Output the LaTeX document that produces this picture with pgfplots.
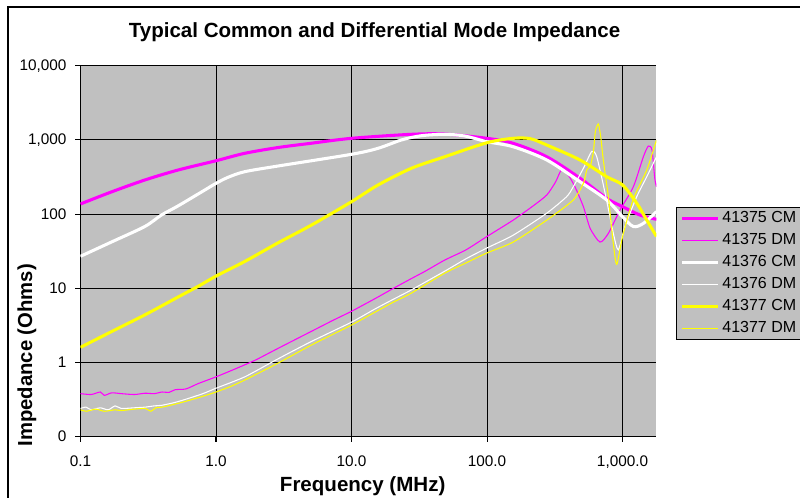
\documentclass[border=0pt]{standalone}
\usepackage{fontspec}
\setmainfont{Liberation Sans}
\usepackage{pgfplots}
\pgfplotsset{compat=1.18}
\definecolor{plotgray}{RGB}{192,192,192}
\definecolor{mag}{RGB}{255,0,255}
\definecolor{yel}{RGB}{255,255,0}

\begin{document}
\begin{tikzpicture}
\useasboundingbox (0,0) rectangle (600pt,-373.5pt);
\clip (0,0) rectangle (600pt,-373.5pt);
\fill[white] (0,0) rectangle (600pt,-373.5pt);
\draw[black, line width=1.1pt] (6pt,-5.25pt) rectangle (640pt,-400pt);

\node[font=\bfseries\fontsize{15.4}{18}\selectfont] at (280.9pt,-24pt) {Typical Common and Differential Mode Impedance};
\node[font=\bfseries\fontsize{15.2}{18}\selectfont, rotate=90] at (20.25pt,-266.5pt) {Impedance (Ohms)};
\node[font=\bfseries\fontsize{15.4}{18}\selectfont] at (272pt,-364.5pt) {Frequency (MHz)};

\begin{axis}[
    at={(60.375pt,-327.5pt)}, anchor=south west,
    scale only axis, width=432pt, height=278.2pt,
    xmode=log, ymode=log,
    xmin=0.1, xmax=1780, ymin=0.1, ymax=10000,
    xtick={0.1,1,10,100,1000},
    xticklabels={0.1,1.0,10.0,100.0,{1,000.0}},
    ytick={0.1,1,10,100,1000,10000},
    yticklabels={0,1,10,100,{1,000},{10,000}},
    xminorticks=false, yminorticks=false,
    axis lines*=left,
    axis line style={black, line width=0.8pt},
    tick align=outside, major tick length=4pt,
    tick style={black, line width=0.8pt},
    grid=major,
    grid style={black, line width=0.7pt},
    axis background/.style={fill=plotgray},
    tick label style={font=\fontsize{11.5}{13}\selectfont},
    xticklabel style={yshift=-6.5pt},
    yticklabel style={xshift=-3pt},
    legend style={at={(1.034,0.619)}, anchor=north west,
        fill=plotgray, draw=black, line width=0.8pt,
        inner xsep=3pt, inner ysep=0pt,
        font=\fontsize{12}{14}\selectfont,
        nodes={inner sep=2pt, text height=9pt, text depth=3.5pt},
        column 2/.style={text width=70pt}},
    legend cell align=left,
    legend image code/.code={\draw[#1] (0cm,0cm) -- (0.95cm,0cm);},
]

% 41375 CM
\addplot[mag, line width=2.3pt, smooth, tension=0.5] coordinates {
(0.1,137)(0.169,199)(0.298,288)(0.525,393)(1.0,524)(1.63,660)(2.87,790)
(5,900)(10,1051)(27.6,1190)(48.7,1200)(100,1051)(156,900)(276,593)
(486,304)(764,163)(1000,126)(1346,97)(1780,85)
};
% 41375 DM
\addplot[mag, line width=0.8pt, smooth, tension=0.4] coordinates {
(0.1,0.38)(0.12,0.37)(0.14,0.40)(0.15,0.36)(0.17,0.39)(0.2,0.38)(0.25,0.37)
(0.3,0.385)(0.35,0.38)(0.4,0.40)(0.45,0.395)(0.5,0.43)(0.6,0.44)(0.74,0.52)
(1.0,0.64)(1.3,0.78)(1.63,0.93)(2.0,1.1)(2.87,1.55)(5,2.6)(7.3,3.7)(10,4.9)
(15,7.3)(20,9.8)(27.6,13.5)(35,17)(48.7,24)(70,33)(100,50)(156,83)(220,130)
(276,181)(320,270)(356,400)(400,330)(447,230)(514,126)(577,64)(682,42)
(786,55)(959,114)(1202,234)(1424,593)(1550,827)(1650,730)(1730,300)(1780,234)
};
% 41376 CM
\addplot[white, line width=2.3pt, smooth, tension=0.5] coordinates {
(0.1,27)(0.169,42)(0.298,68)(0.395,97)(0.525,129)(0.826,211)(1.0,260)
(1.226,313)(1.629,373)(2.87,445)(10,640)(15.7,771)(23.3,997)(32.7,1139)
(48.7,1190)(68.4,1129)(100,946)(156,809)(276,536)(486,273)(764,155)
(1000,92)(1202,68)(1424,75)(1780,108)
};
% 41376 DM
\addplot[white, line width=0.8pt, smooth, tension=0.4] coordinates {
(0.1,0.24)(0.11,0.25)(0.12,0.23)(0.14,0.245)(0.16,0.23)(0.18,0.26)(0.2,0.24)
(0.25,0.245)(0.3,0.25)(0.35,0.26)(0.4,0.265)(0.5,0.29)(0.6,0.32)(0.8,0.38)
(1.0,0.45)(1.3,0.54)(1.63,0.64)(2.0,0.78)(2.87,1.12)(5,1.9)(10,3.5)(15,5.3)
(20,7)(27.6,9.5)(48.7,17)(70,25)(100,35)(156,52)(276,103)(387,172)(433,234)
(514,414)(593,700)(645,593)(744,191)(855,55)(931,33)(1041,68)(1273,172)
(1509,319)(1780,593)
};
% 41377 CM
\addplot[yel, line width=2.3pt, smooth, tension=0.5] coordinates {
(0.1,1.6)(0.169,2.6)(0.3,4.4)(0.53,7.7)(0.75,10.8)(1.0,14.6)(1.63,23)(2.87,41)
(5.05,71)(10,147)(15.7,247)(27.6,414)(48.7,593)(100,917)(156,1051)(208,1040)
(276,853)(486,536)(764,319)(1000,247)(1273,140)(1509,83)(1780,50)
};
% 41377 DM
\addplot[yel, line width=0.8pt, smooth, tension=0.4] coordinates {
(0.1,0.23)(0.11,0.22)(0.13,0.235)(0.15,0.22)(0.18,0.23)(0.2,0.225)(0.25,0.235)
(0.3,0.24)(0.33,0.22)(0.36,0.245)(0.4,0.25)(0.5,0.275)(0.6,0.30)(0.8,0.35)
(1.0,0.40)(1.3,0.48)(1.63,0.58)(2.0,0.70)(2.87,0.98)(5,1.7)(10,3.2)(15,4.8)
(20,6.4)(27.6,8.6)(48.7,16)(70,22)(100,30)(156,42)(276,83)(433,155)(514,260)
(544,393)(580,450)(610,700)(630,1300)(663,1640)(690,1100)(721,536)(786,172)
(809,103)(855,40)(906,21)(1000,50)(1202,160)(1509,393)(1780,997)
};
\legend{41375 CM, 41375 DM, 41376 CM, 41376 DM, 41377 CM, 41377 DM}
\end{axis}
\end{tikzpicture}
\end{document}
